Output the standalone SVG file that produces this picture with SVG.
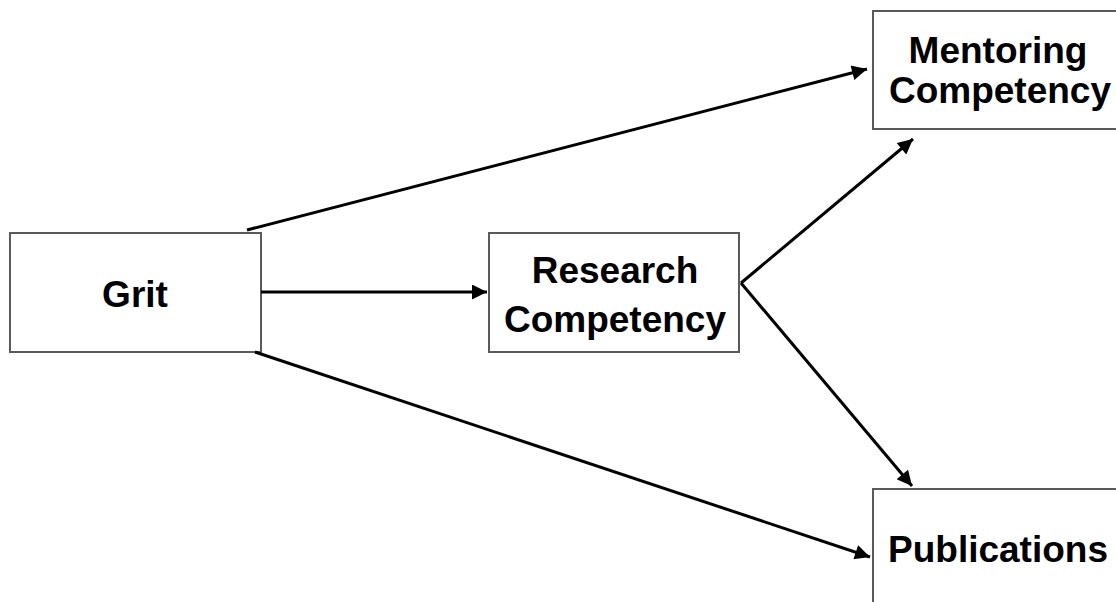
<svg xmlns="http://www.w3.org/2000/svg" width="1116" height="602" viewBox="0 0 1116 602">
<defs>
<style>
.box{fill:#fff;stroke:#5a5a5a;stroke-width:2}
.lbl{font-family:"Liberation Sans",Arial,sans-serif;font-weight:bold;font-size:37px;fill:#000;text-anchor:middle}
.edge{stroke:#000;stroke-width:3;fill:none;marker-end:url(#ah)}
</style>
<marker id="ah" viewBox="0 0 10 10" refX="10" refY="5" markerWidth="6" markerHeight="5" markerUnits="strokeWidth" orient="auto">
<path d="M0,0 L10,5 L0,10 z" fill="#000"/>
</marker>
</defs>
<rect width="1116" height="602" fill="#fff"/>
<g id="grit">
<rect class="box" x="10" y="233" width="251" height="119"/>
<text class="lbl" x="135" y="307">Grit</text>
</g>
<g id="research">
<rect class="box" x="489" y="233" width="250" height="119"/>
<text class="lbl" x="615" y="283">Research</text>
<text class="lbl" x="615" y="332">Competency</text>
</g>
<g id="mentoring">
<rect class="box" x="873" y="11" width="260" height="118"/>
<text class="lbl" x="998" y="63">Mentoring</text>
<text class="lbl" x="1000" y="103">Competency</text>
</g>
<g id="publications">
<rect class="box" x="873" y="489" width="260" height="130"/>
<text class="lbl" x="998" y="562">Publications</text>
</g>
<g id="connectors">
<path class="edge" d="M247,230 L867,69"/>
<path class="edge" d="M261,292 L487,292"/>
<path class="edge" d="M255,352 L870,557"/>
<path class="edge" d="M741,283 L913,139"/>
<path class="edge" d="M741,283 L912,486"/>
</g>
</svg>
